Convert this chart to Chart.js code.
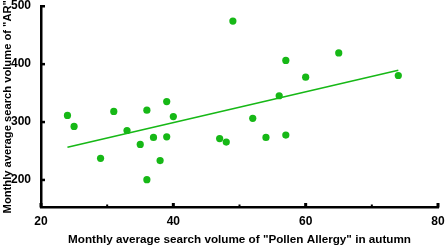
<!DOCTYPE html>
<html>
<head>
<meta charset="utf-8">
<script src="https://cdn.jsdelivr.net/npm/chart.js@4"></script>
<style>
html,body{margin:0;padding:0;background:#fff;}
#wrap{width:447px;height:247px;position:relative;}
</style>
</head>
<body>
<div id="wrap"><canvas id="c" width="447" height="247"></canvas></div>
<script>
const pollenX = [24, 25, 29, 31, 33, 35, 36, 36, 37, 38, 39, 39, 40, 47, 48, 49, 52, 54, 56, 57, 57, 60, 65, 74];
const arY     = [311, 292, 237, 318, 285, 261, 320, 200, 273, 233, 335, 274, 309, 271, 265, 474, 306, 273, 345, 406, 277, 377, 419, 380];
const trendX = [24, 74];
const trendY = [256, 389];
const xTicks = [20, 40, 60, 80];
const xMinorTicks = [30, 50, 70];
const yTicks = [200, 300, 400, 500];
const xTitle = 'Monthly average search volume of "Pollen Allergy" in autumn';
const yTitle = 'Monthly average search volume of "AR"';

const green = 'rgb(22,184,22)';
const FONT = '"Liberation Sans", Arial, sans-serif';

const pts = pollenX.map((x, i) => ({x: x, y: arY[i]}));
const trend = trendX.map((x, i) => ({x: x, y: trendY[i]}));

const tickPlugin = {
  id: 'inwardTicks',
  afterDraw(chart) {
    const ctx = chart.ctx;
    const xs = chart.scales.x, ys = chart.scales.y;
    const bottom = chart.chartArea.bottom, left = chart.chartArea.left;
    ctx.save();
    ctx.fillStyle = '#000';
    xTicks.forEach(v => {
      const px = xs.getPixelForValue(v);
      ctx.fillRect(px - 1.5, bottom - 4.5, 3, 4.5);
    });
    xMinorTicks.forEach(v => {
      const px = xs.getPixelForValue(v);
      ctx.fillRect(px - 1, bottom - 3, 2, 3);
    });
    ctx.font = 'bold 12px ' + FONT;
    ctx.textAlign = 'right';
    ctx.textBaseline = 'middle';
    yTicks.forEach(v => {
      const py = ys.getPixelForValue(v);
      ctx.fillRect(left, py - 1, 4, 2.5);
      ctx.fillText(String(v), left - 10, py);
    });
    ctx.restore();
  }
};

function zeroPad(s) { s.paddingTop = 0; s.paddingBottom = 0; s.paddingLeft = 0; s.paddingRight = 0; }

new Chart(document.getElementById('c'), {
  type: 'scatter',
  data: {
    datasets: [
      { data: pts, backgroundColor: green, borderColor: green, pointRadius: 3.6, pointHoverRadius: 3.6, borderWidth: 0 },
      { type: 'line', data: trend, borderColor: green, borderWidth: 1.6, pointRadius: 0, fill: false }
    ]
  },
  options: {
    responsive: false,
    animation: false,
    events: [],
    layout: {padding: {left: 0, right: 9, top: 6, bottom: 0}},
    plugins: {legend: {display: false}, tooltip: {enabled: false}},
    scales: {
      x: {
        type: 'linear', min: 20, max: 80,
        afterBuildTicks: s => { s.ticks = xTicks.map(v => ({value: v})); },
        afterFit: s => { s.height = 39.5; zeroPad(s); },
        grid: {display: false, drawTicks: false, tickLength: 0},
        border: {display: true, color: '#000', width: 2.5},
        ticks: {color: '#000', padding: 7, font: {family: FONT, size: 12, weight: 'bold'}, maxRotation: 0},
        title: {display: true, text: xTitle, color: '#000', padding: {top: 3, bottom: 0}, font: {family: FONT, size: 11.7, weight: 'bold'}}
      },
      y: {
        type: 'linear', min: 152, max: 500,
        afterBuildTicks: s => { s.ticks = yTicks.map(v => ({value: v})); },
        afterFit: s => { s.width = 41; zeroPad(s); },
        grid: {display: false, drawTicks: false, tickLength: 0},
        border: {display: true, color: '#000', width: 2.5},
        ticks: {display: false},
        title: {display: true, text: yTitle, color: '#000', padding: {top: 1, bottom: 0}, font: {family: FONT, size: 11.2, weight: 'bold'}}
      }
    }
  },
  plugins: [tickPlugin]
});
</script>
</body>
</html>
